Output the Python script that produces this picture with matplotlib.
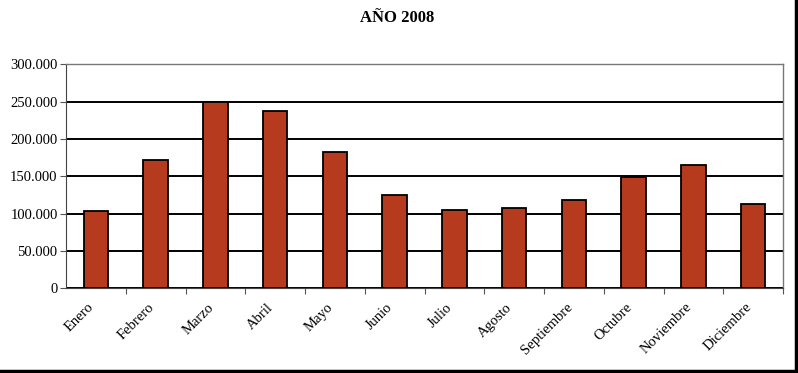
import matplotlib
matplotlib.use("Agg")
import matplotlib.pyplot as plt
from matplotlib.ticker import FuncFormatter
from matplotlib.lines import Line2D
from matplotlib.transforms import ScaledTranslation

meses = ["Enero", "Febrero", "Marzo", "Abril", "Mayo", "Junio", "Julio",
         "Agosto", "Septiembre", "Octubre", "Noviembre", "Diciembre"]
valores = [103000, 172000, 249000, 238000, 182000, 124500, 105000,
           108000, 118500, 149000, 165500, 113000]
titulo = "AÑO 2008"

plt.rcParams['font.family'] = ['Liberation Serif', 'DejaVu Serif']

fig = plt.figure(figsize=(7.98, 3.73), dpi=100)
ax = fig.add_axes([66/798, 1-288.3/373, (783-66)/798, (288.3-64.3)/373])

x = list(range(len(meses)))
ax.bar(x, valores, width=0.41, color="#B63A1D", edgecolor="black", linewidth=1.3, zorder=3)

ax.set_xlim(-0.5, len(meses)-0.5)
ax.set_ylim(0, 300000)
ax.set_yticks(range(0, 300001, 50000))
ax.yaxis.set_major_formatter(FuncFormatter(lambda v, p: f"{int(v):,}".replace(",", ".")))
ax.yaxis.grid(True, color="black", linewidth=1.4, zorder=1)
ax.set_axisbelow(True)

ax.set_xticks([i - 0.5 for i in range(1, len(meses))] + [len(meses) - 0.5], minor=False)
ax.set_xticklabels([])
ax.set_xticks(x, minor=True)
ax.set_xticklabels(meses, minor=True, rotation=45, ha="right", va="top",
                   rotation_mode="anchor", fontsize=10.5)
ax.tick_params(axis="x", which="minor", length=0, pad=9)
ax.tick_params(axis="x", which="major", length=4, width=0.8, color="#555555", direction="out")
ax.tick_params(axis="y", length=4, width=0.8, labelsize=10.5, pad=2, color="#555555")
offset = ScaledTranslation(-6/72, 0, fig.dpi_scale_trans)
for lbl in ax.xaxis.get_minorticklabels():
    lbl.set_transform(lbl.get_transform() + offset)

for s in ["top", "right"]:
    ax.spines[s].set_color("#777777")
    ax.spines[s].set_linewidth(1.0)
ax.spines["left"].set_color("#444444")
ax.spines["bottom"].set_color("#444444")

fig.text(397/798, 1-18/373, titulo, ha="center", va="center",
         fontsize=12, fontweight="bold")

# outer frame (right and bottom thick edges)
fig.add_artist(Line2D([795.5/798, 795.5/798], [1-370.5/373, 1.0], transform=fig.transFigure,
                      color="black", linewidth=2.5))
fig.add_artist(Line2D([0, 795.5/798], [1-370.5/373, 1-370.5/373], transform=fig.transFigure,
                      color="black", linewidth=2.5))

fig.savefig("out.png", dpi=100)
